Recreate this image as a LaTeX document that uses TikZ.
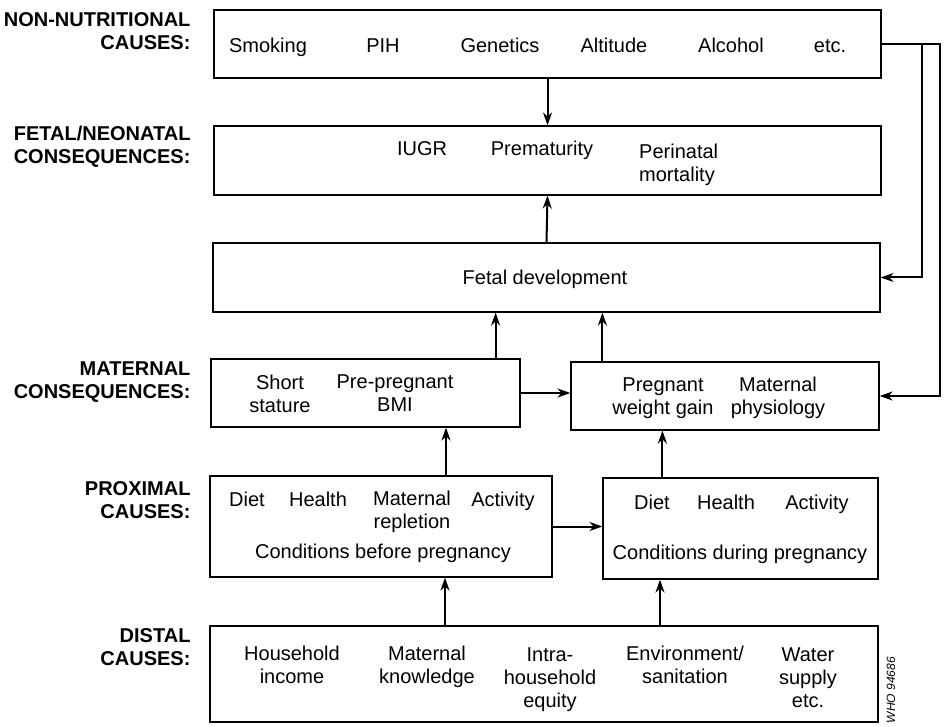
\documentclass[tikz,border=0pt]{standalone}
\usepackage{fontspec}
\setmainfont{Liberation Sans}
\usetikzlibrary{arrows.meta,calc}

\tikzset{
  box/.style={draw, line width=1.2pt, minimum height=#1, inner sep=0pt},
  lbl/.style={anchor=east, align=right, font=\fontsize{20}{23}\selectfont\bfseries},
  txt/.style={align=center, inner sep=0pt, yshift=-3pt, font=\fontsize{20}{23}\selectfont,
    execute at begin node=\strut, execute at end node=\strut},
  arr/.style={-{Stealth[length=13pt,width=9pt]}, line width=2pt}
}

\begin{document}
\begin{tikzpicture}[x=1pt,y=-1pt]
\useasboundingbox (0,0) rectangle (945,727);

%boxes
\node[box=68pt, minimum width=667pt] (nonnut) at (547.5,44) {};
\node[box=69pt, minimum width=667pt] (fetal) at (547.5,160.5) {};
\node[box=69pt, minimum width=667pt] (fetdev) at (546.5,277.5) {};
\node[box=68pt, minimum width=309pt] (matL) at (365.5,393) {};
\node[box=68pt, minimum width=308pt] (matR) at (725,396) {};
\node[box=101pt, minimum width=342pt] (proxL) at (381,526.5) {};
\node[box=101pt, minimum width=275pt] (proxR) at (740.5,528.5) {};
\node[box=96pt, minimum width=668pt] (distal) at (544,674) {};

%row labels
\node[lbl] (lnonnut) at (194,31) {NON-NUTRITIONAL\\CAUSES:};
\node[lbl] (lfetal) at (194,146.5) {FETAL/NEONATAL\\CONSEQUENCES:};
\node[lbl] (lmat) at (194,382.5) {MATERNAL\\CONSEQUENCES:};
\node[lbl] (lprox) at (194,500) {PROXIMAL\\CAUSES:};
\node[lbl] (ldist) at (194,647.5) {DISTAL\\CAUSES:};

%non-nutritional causes
\node[txt] (smoking) at (268,45) {Smoking};
\node[txt] (pih) at (383,45) {PIH};
\node[txt] (genetics) at (500,45) {Genetics};
\node[txt] (altitude) at (614,45) {Altitude};
\node[txt] (alcohol) at (731,45) {Alcohol};
\node[txt] (etc) at (830,45) {etc.};

%fetal/neonatal
\node[txt] (iugr) at (422,148) {IUGR};
\node[txt] (premat) at (542,148) {Prematurity};
\node[txt, anchor=west, align=left] (perinat) at (639,163.5) {Perinatal\\mortality};
\node[txt] (fdev) at (545,277) {Fetal development};

%maternal
\node[txt] (short) at (280,394) {Short\\stature};
\node[txt] (prepreg) at (395,394) {Pre-pregnant\\BMI};
\node[txt] (wgain) at (663,396.5) {Pregnant\\weight gain};
\node[txt] (physio) at (778,396.5) {Maternal\\physiology};

%proximal
\node[txt] (dietL) at (247,499) {Diet};
\node[txt] (healthL) at (318,499) {Health};
\node[txt] (replet) at (412,510.5) {Maternal\\repletion};
\node[txt] (actL) at (503,499) {Activity};
\node[txt] (before) at (383,551) {Conditions before pregnancy};
\node[txt] (dietR) at (652,502) {Diet};
\node[txt] (healthR) at (726,502) {Health};
\node[txt] (actR) at (817,502) {Activity};
\node[txt] (during) at (740,552) {Conditions during pregnancy};

%distal
\node[txt] (income) at (292,665) {Household\\income};
\node[txt] (knowl) at (427,665) {Maternal\\knowledge};
\node[txt] (equity) at (550,678) {Intra-\\household\\equity};
\node[txt] (envir) at (685,665) {Environment/\\sanitation};
\node[txt] (water) at (808,678) {Water\\supply\\etc.};
\node[rotate=90, inner sep=0pt, font=\fontsize{12}{14}\selectfont\itshape] (who) at (891,690) {WHO 94686};

%arrows
\draw[arr] (nonnut.south) -- (fetal.north);
\draw[arr] (fetdev.north) -- (fetal.south);
\draw[arr] ([xshift=-25pt]matL.north east) -- ([xshift=-25pt]matL.north east |- fetdev.south);
\draw[arr] ([xshift=32pt]matR.north west) -- ([xshift=32pt]matR.north west |- fetdev.south);
\draw[arr] (matL.east) -- (matL.east -| matR.west);
\draw[arr] ([xshift=65pt]proxL.north) -- ([xshift=65pt]proxL.north |- matL.south);
\draw[arr] ([xshift=60pt]proxR.north west) -- ([xshift=60pt]proxR.north west |- matR.south);
\draw[arr] (proxL.east) -- (proxL.east -| proxR.west);
\draw[arr] ([xshift=-99pt]distal.north) -- ([xshift=-99pt]distal.north |- proxL.south);
\draw[arr] ([xshift=116pt]distal.north) -- ([xshift=116pt]distal.north |- proxR.south);

%feedback lines on the right
\coordinate (fbin) at (922,44);
\coordinate (fbout) at (940,44);
\draw[arr] (nonnut.east) -- (fbout) |- (matR.east);
\draw[arr] (fbin) |- (fetdev.east);
\end{tikzpicture}
\end{document}
